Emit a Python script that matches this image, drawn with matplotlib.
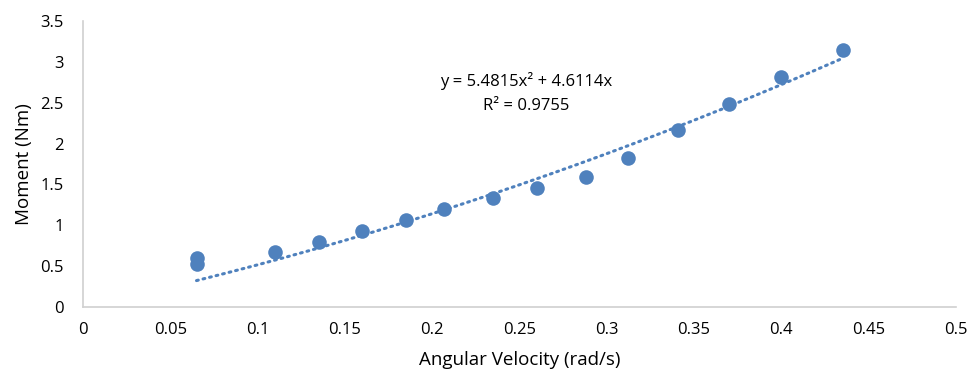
import numpy as np
import matplotlib.pyplot as plt

# angular velocity (rad/s) vs moment (Nm)
omega = [0.065, 0.065, 0.11, 0.135, 0.16, 0.185, 0.207, 0.235, 0.26, 0.288,
         0.312, 0.341, 0.37, 0.40, 0.435]
moment = [0.60, 0.52, 0.67, 0.80, 0.93, 1.065, 1.195, 1.33, 1.46, 1.59,
          1.825, 2.16, 2.49, 2.82, 3.15]

# polynomial trendline (order 2, intercept 0) as reported
coef_a = 5.4815
coef_b = 4.6114
r2 = 0.9755

plt.rcParams['font.family'] = ['Open Sans', 'DejaVu Sans']
blue = '#4F81BD'

fig = plt.figure(figsize=(9.79, 3.73), dpi=100)
ax = fig.add_axes([0.0848, 0.177, 0.8917, 0.7667])

xt = np.linspace(min(omega), max(omega), 200)
ax.plot(xt, coef_a * xt**2 + coef_b * xt, color=blue, lw=2.2,
        linestyle=(0, (0.6, 1.6)), dash_capstyle='round', zorder=2)
ax.scatter(omega, moment, s=110, color=blue, zorder=3, linewidths=0)

ax.text(0.254, 2.76, "y = %.4fx\u00b2 + %.4fx" % (coef_a, coef_b),
        ha='center', va='center', fontsize=12)
ax.text(0.254, 2.46, "R\u00b2 = %.4f" % r2, ha='center', va='center', fontsize=12)

ax.set_xlim(0, 0.5)
ax.set_ylim(0, 3.5)
ax.set_xticks(np.arange(0, 0.51, 0.05))
ax.set_xticklabels(['0', '0.05', '0.1', '0.15', '0.2', '0.25', '0.3', '0.35',
                    '0.4', '0.45', '0.5'])
ax.set_yticks(np.arange(0, 3.51, 0.5))
ax.set_yticklabels(['0', '0.5', '1', '1.5', '2', '2.5', '3', '3.5'])
ax.tick_params(length=0, labelsize=12, pad=11)
ax.tick_params(axis='y', pad=14)
for s in ['top', 'right']:
    ax.spines[s].set_visible(False)
for s in ['left', 'bottom']:
    ax.spines[s].set_color('#d0d0d0')
    ax.spines[s].set_linewidth(1.2)

ax.set_xlabel("Angular Velocity (rad/s)", fontsize=13.5, labelpad=9)
ax.set_ylabel("Moment (Nm)", fontsize=13.5, labelpad=5)

plt.savefig('out.png', dpi=100)
